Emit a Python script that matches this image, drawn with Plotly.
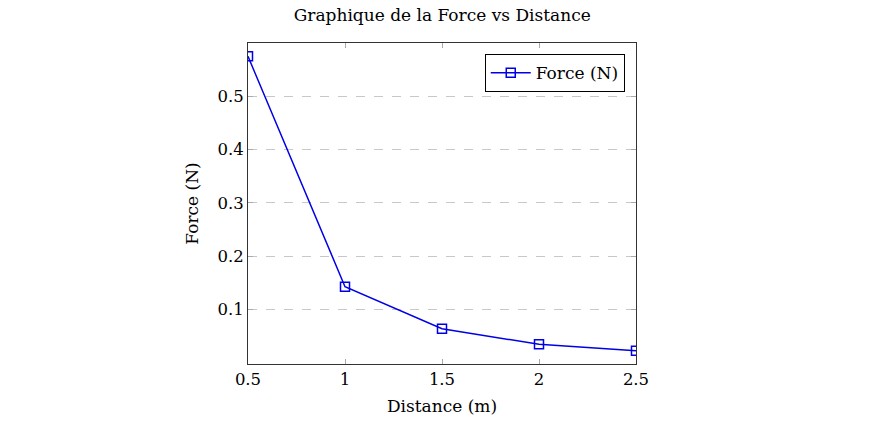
import plotly.graph_objects as go

distance = [0.5, 1, 1.5, 2, 2.5]
force = [0.575, 0.143, 0.064, 0.035, 0.023]
x_ticks = [0.5, 1, 1.5, 2, 2.5]
x_labels = ["0.5", "1", "1.5", "2", "2.5"]
y_ticks = [0.1, 0.2, 0.3, 0.4, 0.5]

serif = "DejaVu Serif, Liberation Serif, serif"

trace = go.Scatter(
    x=distance, y=force,
    mode="lines+markers",
    name="Force (N)",
    line=dict(color="rgb(0,0,230)", width=1.5),
    marker=dict(symbol="square-open", size=9, color="rgb(0,0,230)",
                line=dict(width=1.5, color="rgb(0,0,230)")),
)

fig = go.Figure([trace])

fig.update_layout(
    width=874, height=425,
    margin=dict(l=248, r=238, t=43, b=59),
    paper_bgcolor="white", plot_bgcolor="white",
    font=dict(family=serif, size=16.5, color="black"),
    title=dict(text="Graphique de la Force vs Distance", x=0.506, xanchor="center",
               y=0.965, yanchor="middle", font=dict(size=17)),
    showlegend=True,
    legend=dict(x=0.971, y=0.965, xanchor="right", yanchor="top",
                bordercolor="black", borderwidth=1, bgcolor="white",
                font=dict(size=17), itemwidth=40),
)

fig.update_xaxes(
    range=[0.5, 2.5], tickvals=x_ticks, ticktext=x_labels,
    showgrid=False, zeroline=False,
    showline=True, linecolor="#333", linewidth=1, mirror="allticks",
    ticks="inside", ticklen=5, tickcolor="#aaa",
    title=dict(text="Distance (m)", standoff=12, font=dict(size=17)),
)
fig.update_yaxes(
    range=[-0.002, 0.6], tickvals=y_ticks,
    showgrid=True, gridcolor="#c8c8c8", griddash="dash", gridwidth=1,
    zeroline=False,
    showline=True, linecolor="#333", linewidth=1, mirror="allticks",
    ticks="inside", ticklen=5, tickcolor="#aaa",
    title=dict(text="Force (N)", standoff=14, font=dict(size=17)),
)

fig.write_html("out.html", config={"displayModeBar": False},
               post_script="document.body.style.margin='0';")
